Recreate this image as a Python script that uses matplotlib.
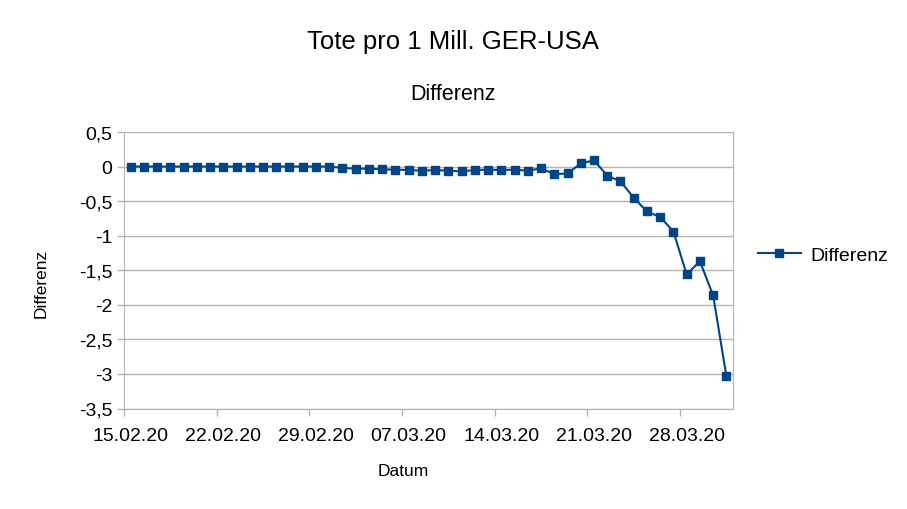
import matplotlib
matplotlib.use("Agg")
import matplotlib.pyplot as plt
import matplotlib.dates as mdates
from matplotlib.ticker import FuncFormatter, MultipleLocator, FixedLocator, NullFormatter
import datetime as dt

plt.rcParams['font.family'] = ['Liberation Sans', 'DejaVu Sans']

start_date = "2020-02-15"
n_days = 46
values = [0, 0, 0, 0, 0, 0, 0, 0, 0, 0, 0, 0, 0, 0, 0, 0,
          -0.02, -0.03, -0.03, -0.04, -0.045, -0.05, -0.06, -0.05, -0.06, -0.07,
          -0.05, -0.045, -0.05, -0.045, -0.06, -0.025, -0.11, -0.10, 0.045, 0.09,
          -0.13, -0.215, -0.45, -0.65, -0.73, -0.94, -1.56, -1.37, -1.865, -3.03]
title = "Tote pro 1 Mill. GER-USA"
subtitle = "Differenz"
series_name = "Differenz"
x_label = "Datum"
y_label = "Differenz"

d0 = dt.datetime.strptime(start_date, "%Y-%m-%d")
dates = [d0 + dt.timedelta(days=i) for i in range(n_days)]
xs = [d + dt.timedelta(hours=12) for d in dates]

fig = plt.figure(figsize=(9.07, 5.10), dpi=100)
ax = fig.add_axes([124/907, 1-409.5/510, (733-124)/907, (409.5-133)/510])

color = "#004586"
ax.plot(xs, values, color=color, lw=1.5, marker='s', ms=5.5, label=series_name)

ax.set_xlim(d0, d0 + dt.timedelta(days=n_days))
ax.set_ylim(-3.5, 0.5)
ax.yaxis.set_major_locator(MultipleLocator(0.5))
ax.yaxis.set_major_formatter(FuncFormatter(lambda v, p: ("%g" % v).replace('.', ',')))
# tick marks at day boundaries, labels centred on the day
ax.xaxis.set_major_locator(FixedLocator([mdates.date2num(d0 + dt.timedelta(days=7*k)) for k in range(7)]))
ax.xaxis.set_major_formatter(NullFormatter())
ax.xaxis.set_minor_locator(FixedLocator([mdates.date2num(d0 + dt.timedelta(days=7*k, hours=12)) for k in range(7)]))
ax.xaxis.set_minor_formatter(mdates.DateFormatter("%d.%m.%y"))

ax.grid(axis='y', color='#b3b3b3', lw=1)
ax.set_axisbelow(True)
for s in ax.spines.values():
    s.set_color('#b3b3b3')
ax.spines['top'].set_visible(False)
ax.tick_params(axis='both', which='major', colors='#b3b3b3', labelcolor='black', labelsize=14, length=5, width=1)
ax.tick_params(axis='x', which='minor', length=0, labelsize=14, pad=8.5 + 5 * 1.0)
ax.tick_params(axis='x', which='major', pad=8.5)
ax.tick_params(axis='y', pad=3.5)

fig.text(453/907, 1-42/510, title, ha='center', va='center', fontsize=18.5)
fig.text(453/907, 1-95/510, subtitle, ha='center', va='center', fontsize=15.5)
fig.text(403/907, 1-471/510, x_label, ha='center', va='center', fontsize=12.5)
fig.text(41/907, 1-283/510, y_label, ha='center', va='center', rotation=90, fontsize=12.5)

leg = ax.legend(loc='center left', bbox_to_anchor=(750/907, 1-256/510), bbox_transform=fig.transFigure,
                frameon=False, fontsize=14, handlelength=2.2, handletextpad=0.5, borderaxespad=0)

fig.savefig("out.png", dpi=100)
